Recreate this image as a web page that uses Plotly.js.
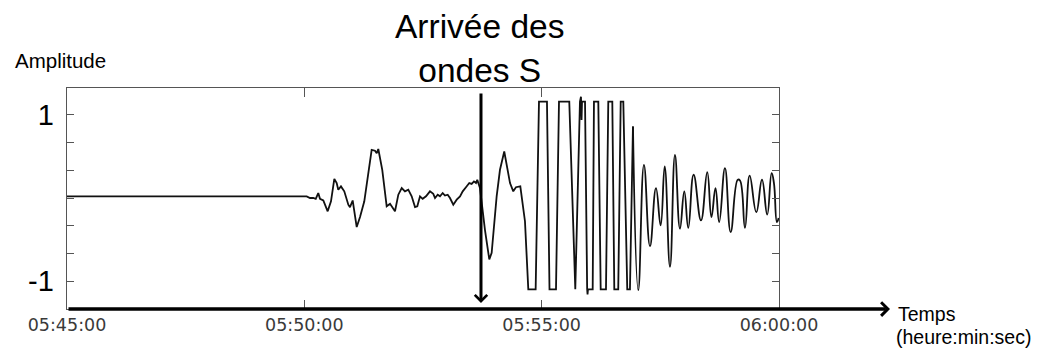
<!DOCTYPE html>
<html>
<head>
<meta charset="utf-8">
<script src="https://cdn.plot.ly/plotly-3.0.1.min.js"></script>
<style>html,body{margin:0;padding:0;background:#fff;}#chart{width:1045px;height:354px;}</style>
</head>
<body>
<div id="chart"></div>
<script>
// Seconds after 05:45:00 and amplitude — body of the trace (linear segments)
const timeSec = [0,303,307.2,311.3,314.4,317.6,319.8,324,329.5,333.7,
  337.9,340.9,342.9,346.3,350.5,355.6,357.7,361.1,366.2,370.4,
  375.8,380.8,385.1,389.3,391.5,393.5,398.5,404.1,408.3,414.6,
  418.8,423.1,427.2,431.4,435.7,439.9,442.8,446.2,449.6,453.8,
  458.8,463.0,465.2,468.6,471.5,474.9,477.8,481.2,484.1,488.3,
  492.6,496.8,500.2,504.3,508.5,511.5,514.4,517.0,518.6,522.0,
  528.4,533.8,536.8,543.1,547.3,552.7,560.0,564.1,567.5,573.0,
  578.9,583.1,592.4,596.6,606.7,609.9,618.1,621.9,634.9,642.5,
  648.4,649.7,650.4,651.0,654.8,657.5,658.0,658.5,664.5,666.1,
  671.6,674.6,681.3,684.2,689.3,691.8,696.8,699.9,703.2,708.2,
  711.6,715.4];
const amplitude = [0.02,0.02,0,0,-0.01,0.06,-0.01,-0.03,-0.16,-0.04,
  0.23,0.18,0.10,0.14,0.08,-0.08,-0.11,-0.03,-0.35,-0.23,
  -0.04,0.30,0.58,0.57,0.54,0.59,0.34,-0.10,-0.07,-0.16,
  0.04,0.12,0.08,0.10,0.02,-0.11,-0.10,0.02,-0.01,0.02,
  0.08,0.05,0.00,0.04,0.02,0.06,0.03,0.04,0.00,-0.08,
  -0.02,0.02,0.08,0.13,0.18,0.17,0.20,0.18,0.22,0.12,
  -0.39,-0.74,-0.66,0.02,0.34,0.56,0.18,0.08,0.13,0.14,
  -0.28,-1.10,-1.10,1.16,1.16,-1.10,-1.10,1.16,1.16,-1.10,
  1.16,1.22,0.94,1.16,1.16,-1.10,-1.16,-1.10,-1.10,1.16,
  1.16,-1.10,-1.10,1.16,1.16,-1.10,-1.10,1.16,1.16,-1.10,
  -1.10,0.86];
// Smooth coda of the trace
const tailSec = [715.4,722.1,729.3,736.9,744.5,750.4,755.5,762.2,768.5,774.8,
  780.3,785.3,792.1,801.4,809.3,814.6,819.7,824.4,831.7,838.9,
  847.9,850.7,857.0,862.9,871.3,878.5,885.1,890.7,893.6,897.4,899.5];
const tailAmp = [0.86,-1.11,0.40,-0.58,0.12,-0.33,0.38,-0.83,0.52,-0.37,
  0.08,-0.36,0.28,-0.27,0.31,-0.23,0.12,-0.29,0.36,-0.41,
  0.22,0.21,-0.36,0.27,-0.17,0.22,-0.20,0.30,0.18,-0.29,-0.24];
const xTickSec = [0,300,600,900];
const xTickText = ["05:45:00","05:50:00","05:55:00","06:00:00"];
const yTickVals = [-1,-2/3,-1/3,0,1/3,2/3,1];
const yTickText = ["-1","","","","","","1"];
const arrivalSec = 523.3;

const base = Date.UTC(2000,0,1,5,45,0);
const toMs = s => base + s*1000;

const traces = [
  {x: timeSec.map(toMs), y: amplitude, type:'scatter', mode:'lines',
   line:{color:'#111', width:1.8}, hoverinfo:'skip'},
  {x: tailSec.map(toMs), y: tailAmp, type:'scatter', mode:'lines',
   line:{color:'#111', width:1.8, shape:'spline', smoothing:1.3}, hoverinfo:'skip'}
];

const sans = 'Liberation Sans, Arial, sans-serif';
const layout = {
  width:1045, height:354,
  margin:{l:67, r:266, t:88, b:45},
  paper_bgcolor:'#fff', plot_bgcolor:'#fff',
  showlegend:false,
  xaxis:{type:'date', range:[toMs(0), toMs(900)],
    tickvals: xTickSec.map(toMs), ticktext: xTickText,
    ticks:'inside', ticklen:9, tickwidth:1, tickcolor:'#555',
    showline:true, linecolor:'#555', linewidth:1.3, mirror:'ticks',
    showgrid:false, zeroline:false,
    tickfont:{family:'DejaVu Sans, sans-serif', size:17.5, color:'#3a3a3a'}},
  yaxis:{range:[-1.337, 1.325], tickvals:yTickVals, ticktext:yTickText,
    ticks:'inside', ticklen:7, tickwidth:1, tickcolor:'#555',
    showline:true, linecolor:'#555', linewidth:1.3, mirror:'ticks',
    showgrid:false, zeroline:false, ticklabelstandoff:6,
    tickfont:{family:sans, size:29, color:'#000'}},
  annotations:[
    {xref:'paper', yref:'paper', x:1.1559, y:0, ax:-823, ay:0, axref:'pixel', ayref:'pixel',
     text:'', showarrow:true, arrowhead:4, arrowsize:0.75, arrowwidth:3.5, arrowcolor:'#000'},
    {xref:'x', yref:'paper', x:toMs(arrivalSec), y:0.027, ax:0, ay:-211,
     text:'', showarrow:true, arrowhead:4, arrowsize:0.8, arrowwidth:3, arrowcolor:'#000'},
    {xref:'paper', yref:'paper', x:(479-67)/712, y:1+(88-49)/221, xanchor:'center', yanchor:'middle',
     text:'Arrivée des<br>ondes S', showarrow:false, align:'center',
     font:{family:sans, size:33.5, color:'#000'}},
    {xref:'paper', yref:'paper', x:(60-67)/712, y:1+(88-60)/221, xanchor:'center', yanchor:'middle',
     text:'Amplitude', showarrow:false, font:{family:sans, size:20.5, color:'#000'}},
    {xref:'paper', yref:'paper', x:(896-67)/712, y:-(314-309)/221, xanchor:'left', yanchor:'middle',
     text:'Temps', showarrow:false, font:{family:sans, size:19.5, color:'#000'}},
    {xref:'paper', yref:'paper', x:(894-67)/712, y:-(337-309)/221, xanchor:'left', yanchor:'middle',
     text:'(heure:min:sec)', showarrow:false, font:{family:sans, size:19.5, color:'#000'}}
  ]
};
Plotly.newPlot('chart', traces, layout, {staticPlot:true, displayModeBar:false});
</script>
</body>
</html>
